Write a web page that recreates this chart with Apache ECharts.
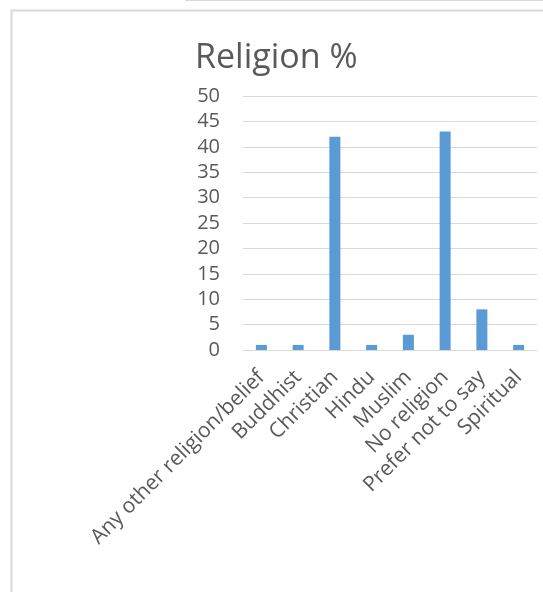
<!DOCTYPE html>
<html>
<head>
<meta charset="utf-8">
<script src="https://cdn.jsdelivr.net/npm/echarts@6/dist/echarts.min.js"></script>
<style>
html,body{margin:0;padding:0;background:#fff;}
#c{width:543px;height:592px;}
</style>
</head>
<body>
<div id="c"></div>
<script>
const categories = ["Any other religion/belief","Buddhist","Christian","Hindu","Muslim","No religion","Prefer not to say","Spiritual"];
const values = [1,1,42,1,3,43,8,1];
const yMin = 0, yMax = 50, yStep = 5;
const titleText = "Religion %";

const chart = echarts.init(document.getElementById('c'), null, {renderer:'canvas'});
const font = "'Open Sans', 'DejaVu Sans', sans-serif";
chart.setOption({
  animation:false,
  backgroundColor:'#ffffff',
  graphic:[
    {type:'line', shape:{x1:185,y1:0.5,x2:543,y2:0.5}, style:{stroke:'#d9d9d9', lineWidth:1}},
    {type:'line', shape:{x1:11,y1:10.5,x2:543,y2:10.5}, style:{stroke:'#d9d9d9', lineWidth:2}},
    {type:'line', shape:{x1:11.5,y1:10,x2:11.5,y2:592}, style:{stroke:'#d9d9d9', lineWidth:2}}
  ],
  title:{text:titleText, left:190, top:36, textStyle:{fontFamily:font, fontSize:34, fontWeight:'normal', color:'#595959'}},
  grid:{left:243, right:6, top:96, bottom:242},
  xAxis:{type:'category', data:categories,
    axisLine:{lineStyle:{color:'#d9d9d9', width:1}},
    axisTick:{show:false},
    axisLabel:{interval:0, rotate:45, margin:24, fontFamily:font, fontSize:21, color:'#595959'}
  },
  yAxis:{type:'value', min:yMin, max:yMax, interval:yStep,
    axisLine:{show:false}, axisTick:{show:false},
    splitLine:{lineStyle:{color:'#d9d9d9', width:1}},
    axisLabel:{margin:23, fontFamily:font, fontSize:20, color:'#595959'}
  },
  series:[{type:'bar', data:values, barWidth:11, itemStyle:{color:'#5b9bd5'}}]
});
</script>
</body>
</html>
